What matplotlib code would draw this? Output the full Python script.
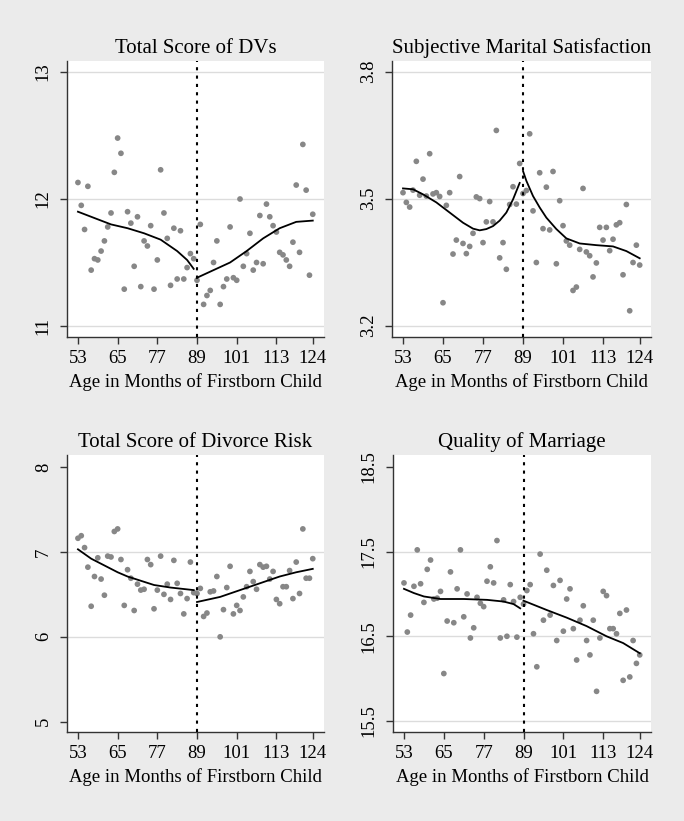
import numpy as np
import matplotlib
matplotlib.use("Agg")
import matplotlib.pyplot as plt

plt.rcParams['font.family'] = ['Liberation Serif', 'DejaVu Serif']

months = np.arange(53, 125)
cutoff = 89
xticks = [53, 65, 77, 89, 101, 113, 124]
xlabel = "Age in Months of Firstborn Child"

# panel 1: Total Score of DVs
dv_title = "Total Score of DVs"
dv_yticks = [11, 12, 13]
dv_scores = [12.13, 11.95, 11.76, 12.10, 11.44, 11.53, 11.52, 11.59, 11.67, 11.78,
             11.89, 12.21, 12.48, 12.36, 11.29, 11.90, 11.81, 11.47, 11.86, 11.31,
             11.67, 11.63, 11.79, 11.29, 11.52, 12.23, 11.89, 11.69, 11.32, 11.77,
             11.37, 11.75, 11.37, 11.46, 11.57, 11.53,
             11.36, 11.80, 11.17, 11.24, 11.28, 11.50, 11.67, 11.17, 11.31, 11.37,
             11.78, 11.38, 11.36, 12.00, 11.47, 11.57, 11.73, 11.44, 11.50, 11.87,
             11.49, 11.96, 11.86, 11.79, 11.74, 11.58, 11.56, 11.52, 11.47, 11.66,
             12.11, 11.58, 12.43, 12.07, 11.40, 11.88]
dv_fit_left_x = [53, 58, 63, 68, 73, 78, 83, 86, 88]
dv_fit_left_y = [11.90, 11.85, 11.80, 11.77, 11.73, 11.68, 11.59, 11.52, 11.45]
dv_fit_right_x = [89, 94, 99, 104, 109, 114, 119, 124]
dv_fit_right_y = [11.38, 11.44, 11.50, 11.59, 11.69, 11.77, 11.82, 11.83]

# panel 2: Subjective Marital Satisfaction
sms_title = "Subjective Marital Satisfaction"
sms_yticks = [3.2, 3.5, 3.8]
sms_scores = [3.514, 3.491, 3.480, 3.520, 3.588, 3.508, 3.546, 3.506, 3.606, 3.511,
              3.514, 3.505, 3.254, 3.484, 3.514, 3.369, 3.402, 3.552, 3.394, 3.370,
              3.387, 3.418, 3.504, 3.500, 3.396, 3.445, 3.493, 3.445, 3.661, 3.360,
              3.396, 3.333, 3.486, 3.528, 3.487, 3.583,
              3.512, 3.519, 3.653, 3.471, 3.349, 3.561, 3.429, 3.527, 3.426, 3.564,
              3.346, 3.495, 3.436, 3.400, 3.390, 3.283, 3.291, 3.380, 3.524, 3.374,
              3.365, 3.315, 3.348, 3.432, 3.402, 3.432, 3.377, 3.404, 3.438, 3.443,
              3.320, 3.486, 3.235, 3.349, 3.390, 3.343]
sms_fit_left_x = [53, 56, 59, 63, 67, 71, 74, 76, 78, 80, 82, 84, 86, 88]
sms_fit_left_y = [3.524, 3.522, 3.510, 3.491, 3.467, 3.443, 3.429, 3.425, 3.428,
                  3.435, 3.448, 3.467, 3.498, 3.537]
sms_fit_right_x = [89, 90, 92, 94, 96, 99, 102, 106, 111, 116, 120, 124]
sms_fit_right_y = [3.565, 3.542, 3.506, 3.479, 3.455, 3.428, 3.406, 3.394, 3.390,
                   3.387, 3.376, 3.359]

# panel 3: Total Score of Divorce Risk
dr_title = "Total Score of Divorce Risk"
dr_yticks = [5, 6, 7, 8]
dr_scores = [7.16, 7.19, 7.05, 6.82, 6.36, 6.71, 6.93, 6.68, 6.49, 6.95,
             6.94, 7.24, 7.27, 6.91, 6.37, 6.79, 6.69, 6.31, 6.62, 6.55,
             6.56, 6.91, 6.85, 6.33, 6.55, 6.95, 6.50, 6.62, 6.44, 6.90,
             6.63, 6.51, 6.27, 6.45, 6.88, 6.52,
             6.51, 6.57, 6.24, 6.28, 6.53, 6.54, 6.71, 6.00, 6.32, 6.58,
             6.83, 6.27, 6.37, 6.31, 6.47, 6.59, 6.77, 6.65, 6.56, 6.85,
             6.82, 6.83, 6.68, 6.77, 6.44, 6.39, 6.59, 6.59, 6.78, 6.45,
             6.88, 6.51, 7.27, 6.69, 6.69, 6.92]
dr_fit_left_x = [53, 57, 61, 65, 68, 72, 76, 81, 88]
dr_fit_left_y = [7.03, 6.92, 6.84, 6.76, 6.71, 6.66, 6.61, 6.58, 6.55]
dr_fit_right_x = [89, 96, 102, 108, 114, 119, 124]
dr_fit_right_y = [6.41, 6.47, 6.55, 6.63, 6.71, 6.76, 6.80]

# panel 4: Quality of Marriage
qm_title = "Quality of Marriage"
qm_yticks = [15.5, 16.5, 17.5, 18.5]
qm_scores = [17.13, 16.55, 16.75, 17.09, 17.52, 17.12, 16.90, 17.29, 17.40, 16.94,
             16.95, 17.03, 16.06, 16.68, 17.26, 16.66, 17.06, 17.52, 16.73, 17.00,
             16.48, 16.60, 16.96, 16.89, 16.85, 17.15, 17.32, 17.13, 17.63, 16.48,
             16.93, 16.50, 17.11, 16.91, 16.49, 16.96,
             16.88, 17.04, 17.11, 16.53, 16.14, 17.47, 16.69, 17.28, 16.75, 17.10,
             16.45, 17.16, 16.56, 16.94, 17.06, 16.59, 16.22, 16.69, 16.86, 16.45,
             16.28, 16.69, 15.85, 16.48, 17.03, 16.98, 16.59, 16.59, 16.53, 16.77,
             15.98, 16.81, 16.02, 16.45, 16.18, 16.28]
qm_fit_left_x = [53, 56, 59, 64, 71, 78, 83, 86, 88]
qm_fit_left_y = [17.06, 17.01, 16.97, 16.94, 16.94, 16.93, 16.91, 16.88, 16.83]
qm_fit_right_x = [89, 96, 102, 108, 114, 119, 124]
qm_fit_right_y = [16.92, 16.81, 16.72, 16.62, 16.50, 16.42, 16.30]

bg = "#ebebeb"
fig = plt.figure(figsize=(6.84, 8.21), dpi=100, facecolor=bg)

panels = [
    (dv_title, dv_scores, dv_yticks, (10.913, 13.087), [11, 12, 13],
     dv_fit_left_x, dv_fit_left_y, dv_fit_right_x, dv_fit_right_y,
     [0.098, 0.5895, 0.3757, 0.3362]),
    (sms_title, sms_scores, sms_yticks, (3.173, 3.825), [3.2, 3.5, 3.8],
     sms_fit_left_x, sms_fit_left_y, sms_fit_right_x, sms_fit_right_y,
     [0.5731, 0.5895, 0.3787, 0.3362]),
    (dr_title, dr_scores, dr_yticks, (4.88, 8.14), [6, 7],
     dr_fit_left_x, dr_fit_left_y, dr_fit_right_x, dr_fit_right_y,
     [0.098, 0.1084, 0.3757, 0.3374]),
    (qm_title, qm_scores, qm_yticks, (15.37, 18.64), [15.5, 16.5, 17.5],
     qm_fit_left_x, qm_fit_left_y, qm_fit_right_x, qm_fit_right_y,
     [0.5746, 0.1084, 0.3772, 0.3374]),
]

for title, scores, yticks, ylim, grid_at, lx, ly, rx, ry, pos in panels:
    ax = fig.add_axes(pos)
    ax.set_facecolor("white")
    for g in grid_at:
        ax.axhline(g, color="#dcdcdc", lw=1.0, zorder=0)
    ax.scatter(months, scores, s=17, color="#878787", edgecolors="none", zorder=2)
    ax.plot(lx, ly, color="black", lw=1.3, zorder=3)
    ax.plot(rx, ry, color="black", lw=1.3, zorder=3)
    ax.axvline(cutoff, color="black", lw=1.5, ls=(0, (1.5, 2.5)), zorder=4)
    ax.set_xlim(49.7, 127.4)
    ax.set_ylim(*ylim)
    ax.set_xticks(xticks)
    ax.set_yticks(yticks)
    ax.set_yticklabels([str(t) for t in yticks], rotation=90, va="center")
    ax.tick_params(direction="out", length=5, width=1, color="#333333",
                   labelsize=13.5, pad=4)
    ax.tick_params(axis="y", pad=6)
    for s in ["top", "right"]:
        ax.spines[s].set_visible(False)
    for s in ["left", "bottom"]:
        ax.spines[s].set_color("#333333")
        ax.spines[s].set_linewidth(1.0)
    ax.set_title(title, fontsize=15, pad=6)
    ax.set_xlabel(xlabel, fontsize=13.5, labelpad=5)

fig.savefig("out.png", dpi=100, facecolor=bg)
